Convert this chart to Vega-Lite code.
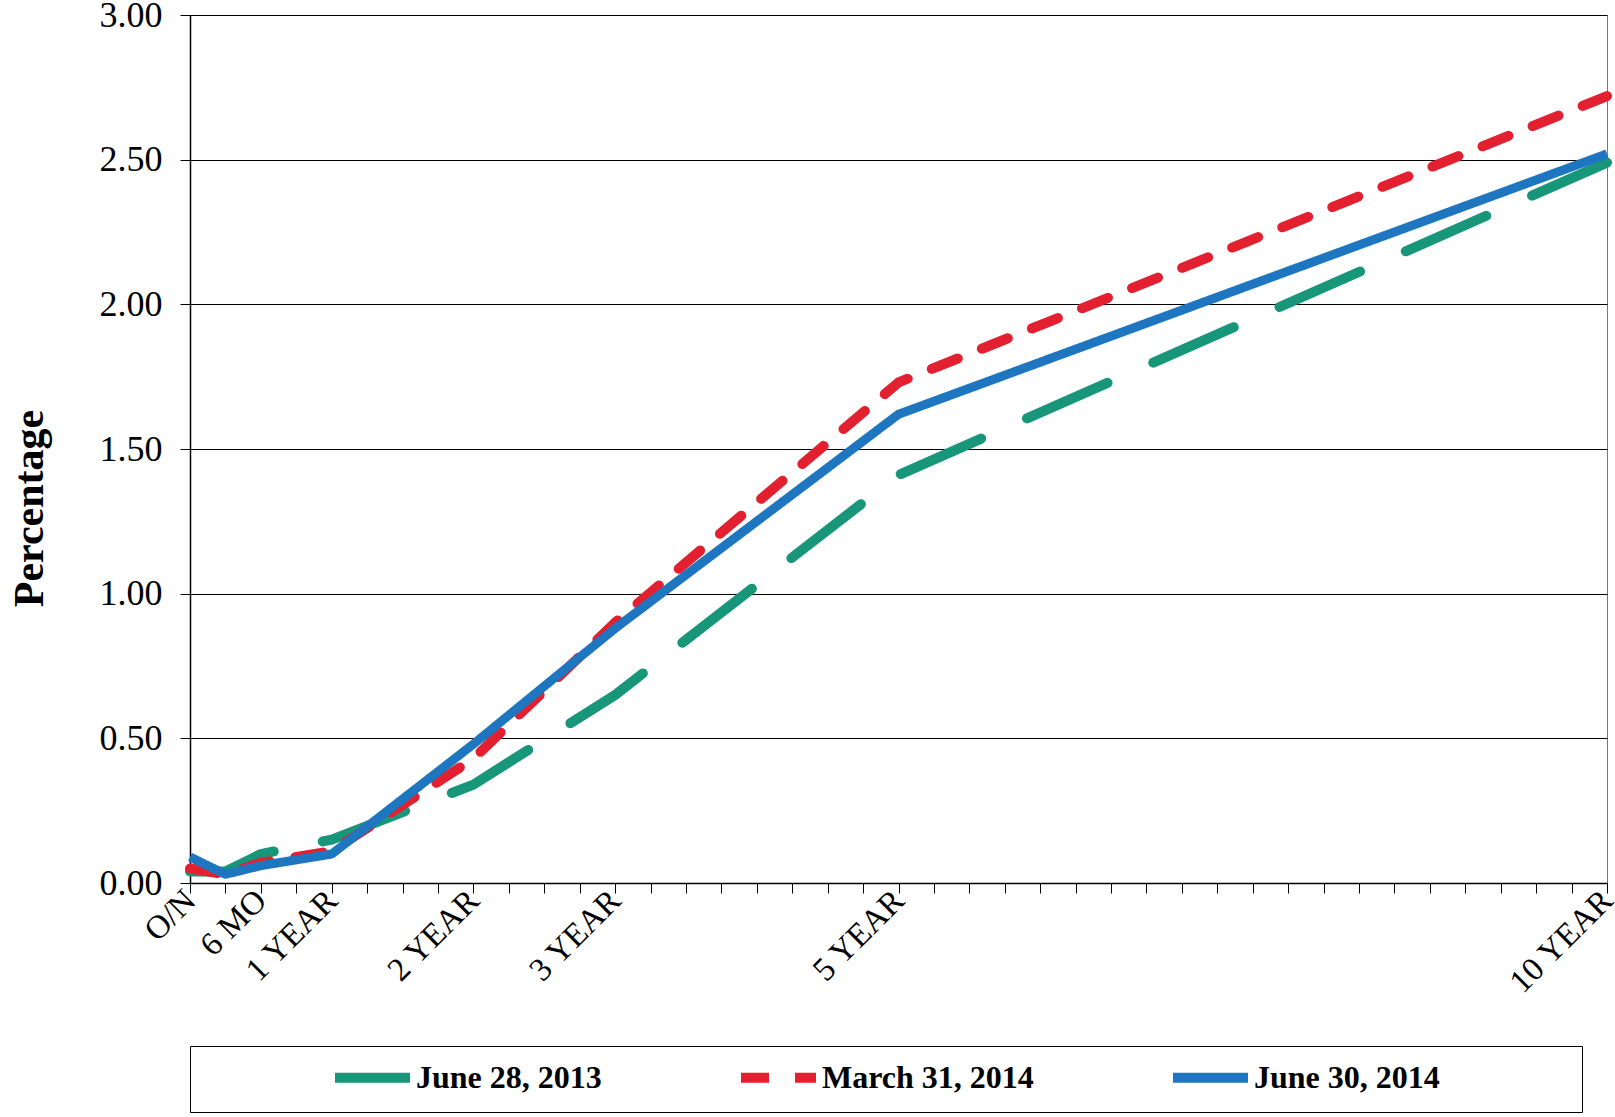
{
  "$schema": "https://vega.github.io/schema/vega-lite/v6.json",
  "width": 1417,
  "height": 868,
  "autosize": "none",
  "padding": {"left": 190, "top": 15, "right": 8, "bottom": 234},
  "background": "white",
  "data": {
    "values": [
      {"series": "June 28, 2013", "term": 0, "rate": 0.04},
      {"series": "June 28, 2013", "term": 0.25, "rate": 0.04},
      {"series": "June 28, 2013", "term": 0.5, "rate": 0.10},
      {"series": "June 28, 2013", "term": 1, "rate": 0.15},
      {"series": "June 28, 2013", "term": 2, "rate": 0.34},
      {"series": "June 28, 2013", "term": 3, "rate": 0.65},
      {"series": "June 28, 2013", "term": 5, "rate": 1.41},
      {"series": "June 28, 2013", "term": 10, "rate": 2.49},
      {"series": "March 31, 2014", "term": 0, "rate": 0.05},
      {"series": "March 31, 2014", "term": 0.25, "rate": 0.03},
      {"series": "March 31, 2014", "term": 0.5, "rate": 0.07},
      {"series": "March 31, 2014", "term": 1, "rate": 0.11},
      {"series": "March 31, 2014", "term": 2, "rate": 0.43},
      {"series": "March 31, 2014", "term": 3, "rate": 0.90},
      {"series": "March 31, 2014", "term": 5, "rate": 1.73},
      {"series": "March 31, 2014", "term": 10, "rate": 2.72},
      {"series": "June 30, 2014", "term": 0, "rate": 0.09},
      {"series": "June 30, 2014", "term": 0.25, "rate": 0.03},
      {"series": "June 30, 2014", "term": 0.5, "rate": 0.06},
      {"series": "June 30, 2014", "term": 1, "rate": 0.10},
      {"series": "June 30, 2014", "term": 2, "rate": 0.48},
      {"series": "June 30, 2014", "term": 3, "rate": 0.88},
      {"series": "June 30, 2014", "term": 5, "rate": 1.62},
      {"series": "June 30, 2014", "term": 10, "rate": 2.52}
    ]
  },
  "encoding": {
    "x": {
      "field": "term",
      "type": "quantitative",
      "scale": {"domain": [0, 10], "nice": false, "zero": false},
      "axis": {
        "title": null,
        "grid": false,
        "values": [0, 0.25, 0.5, 0.75, 1, 1.25, 1.5, 1.75, 2, 2.25, 2.5, 2.75, 3, 3.25, 3.5, 3.75, 4, 4.25, 4.5, 4.75, 5, 5.25, 5.5, 5.75, 6, 6.25, 6.5, 6.75, 7, 7.25, 7.5, 7.75, 8, 8.25, 8.5, 8.75, 9, 9.25, 9.5, 9.75, 10],
        "labelExpr": "datum.value == 0 ? 'O/N' : datum.value == 0.5 ? '6 MO' : datum.value == 1 ? '1 YEAR' : datum.value == 2 ? '2 YEAR' : datum.value == 3 ? '3 YEAR' : datum.value == 5 ? '5 YEAR' : datum.value == 10 ? '10 YEAR' : ''",
        "labelAngle": -45,
        "labelAlign": "right",
        "labelBaseline": "middle",
        "labelOverlap": false,
        "labelFont": "Liberation Serif",
        "labelFontSize": 33,
        "labelColor": "black",
        "labelPadding": 2,
        "labelDx": -6,
        "tickColor": "black",
        "tickSize": 10,
        "domainColor": "black",
        "domainWidth": 1.5
      }
    },
    "y": {
      "field": "rate",
      "type": "quantitative",
      "scale": {"domain": [0, 3], "nice": false},
      "axis": {
        "title": "Percentage",
        "titleFont": "Liberation Serif",
        "titleFontSize": 42,
        "titleFontWeight": "bold",
        "titleColor": "black",
        "titleAngle": -90,
        "titleX": -161,
        "titleY": 493,
        "titleAlign": "center",
        "titleBaseline": "middle",
        "values": [0, 0.5, 1, 1.5, 2, 2.5, 3],
        "format": ".2f",
        "labelFont": "Liberation Serif",
        "labelFontSize": 36,
        "labelColor": "black",
        "labelPadding": 18,
        "tickColor": "black",
        "tickSize": 10,
        "domainColor": "black",
        "domainWidth": 1.5,
        "gridColor": "black",
        "gridWidth": 1.2,
        "gridOpacity": 1
      }
    },
    "color": {
      "field": "series",
      "type": "nominal",
      "scale": {
        "domain": ["June 28, 2013", "March 31, 2014", "June 30, 2014"],
        "range": ["#17967a", "#e3202f", "#1d76bf"]
      },
      "legend": {
        "orient": "none",
        "legendX": 0,
        "legendY": 1031,
        "direction": "horizontal",
        "columns": 3,
        "columnPadding": 119,
        "title": " ",
        "titleOrient": "left",
        "titlePadding": 151,
        "titleFontSize": 10,
        "padding": 14,
        "strokeColor": "black",
        "symbolType": "M-3,0L3,0",
        "symbolSize": 625,
        "symbolStrokeWidth": 10,
        "labelFont": "Liberation Serif",
        "labelFontSize": 32,
        "labelFontWeight": "bold",
        "labelColor": "black",
        "labelOffset": 26,
        "labelLimit": 500,
        "labelExpr": "datum.label == 'June 30, 2014' ? datum.label + '\u2003\u2003\u2003\u2003\u200b' : datum.label"
      }
    },
    "strokeDash": {
      "field": "series",
      "type": "nominal",
      "scale": {
        "domain": ["June 28, 2013", "March 31, 2014", "June 30, 2014"],
        "range": [[88, 50], [28, 26], [1, 0]]
      },
      "legend": null
    }
  },
  "layer": [
    {
      "transform": [{"filter": "datum.series == 'June 28, 2013'"}],
      "mark": {"type": "line", "strokeWidth": 10, "strokeCap": "round", "strokeJoin": "round"}
    },
    {
      "transform": [{"filter": "datum.series == 'March 31, 2014'"}],
      "mark": {"type": "line", "strokeWidth": 10, "strokeCap": "round", "strokeJoin": "round"}
    },
    {
      "transform": [{"filter": "datum.series == 'June 30, 2014'"}],
      "mark": {"type": "line", "strokeWidth": 9, "strokeCap": "butt", "strokeJoin": "round"}
    }
  ],
  "config": {
    "view": {"stroke": "#777", "strokeWidth": 1}
  }
}
